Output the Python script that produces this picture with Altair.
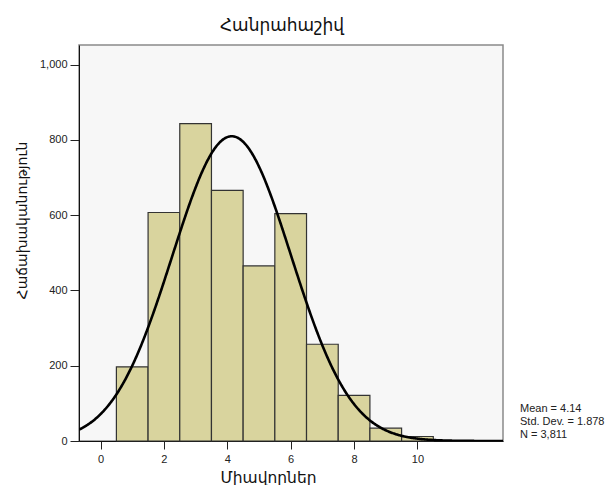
import altair as alt
import pandas as pd

# Histogram data
bin_centers = [1, 2, 3, 4, 5, 6, 7, 8, 9, 10]
counts = [197, 607, 843, 666, 465, 604, 257, 121, 34, 12]

# Summary statistics (used for the fitted normal curve)
mean_val = 4.14
sd_val = 1.878
n_val = 3811
stats_lines = ["Mean = 4.14", "Std. Dev. = 1.878", "N = 3,811"]

title_text = "Հանրահաշիվ"
x_title = "Միավորներ"
y_title = "Հաճախականություն"
x_ticks = [0, 2, 4, 6, 8, 10]
y_ticks = [0, 200, 400, 600, 800, 1000]
x_domain = [-0.68, 12.7]
y_domain = [0, 1052]

df = pd.DataFrame({
    "start": [c - 0.5 for c in bin_centers],
    "end": [c + 0.5 for c in bin_centers],
    "count": counts,
})

font = "Liberation Sans, Arial, DejaVu Sans"
arm_font = "DejaVu Sans"

xscale = alt.Scale(domain=x_domain, nice=False, zero=False)
yscale = alt.Scale(domain=y_domain, nice=False)

xaxis = alt.Axis(values=x_ticks, title=x_title, grid=False, tickSize=8,
                 tickColor="#222", domainColor="#111", labelFontSize=11,
                 labelColor="#222", labelFont=font, labelPadding=4,
                 titleFont=arm_font, titleFontSize=15.5, titleFontWeight="normal",
                 titleColor="#111", titleX=189, titleY=41,
                 titleBaseline="alphabetic", titleAlign="center")
yaxis = alt.Axis(values=y_ticks, format=",d", title=y_title, grid=False,
                 tickSize=9, tickColor="#222", domainColor="#111",
                 labelFontSize=11, labelColor="#222", labelFont=font,
                 labelPadding=3, titleFont=arm_font, titleFontSize=14,
                 titleFontWeight="normal", titleColor="#111",
                 titleX=-57, titleY=175, titleBaseline="middle",
                 titleAlign="center", titleAngle=-90)

bars = alt.Chart(df).mark_rect(color="#d9d49e", stroke="#333333",
                                strokeWidth=1.2).encode(
    x=alt.X("start:Q", scale=xscale, axis=xaxis),
    x2="end:Q",
    y=alt.Y("count:Q", scale=yscale, axis=yaxis),
    y2=alt.datum(0),
)

curve = alt.Chart(
    alt.sequence(start=x_domain[0], stop=x_domain[1] + 0.01, step=0.02, as_="xv")
).transform_calculate(
    yv=f"{n_val} * exp(-0.5 * pow((datum.xv - {mean_val}) / {sd_val}, 2)) / ({sd_val} * sqrt(2 * PI))"
).mark_line(color="#000000", strokeWidth=2.6, clip=True).encode(
    x=alt.X("xv:Q", scale=xscale),
    y=alt.Y("yv:Q", scale=yscale),
)

stats = alt.Chart(pd.DataFrame({"k": [0]})).mark_text(
    text=stats_lines, align="left", baseline="top", fontSize=11,
    font=font, color="#222", lineHeight=13
).encode(x=alt.value(441), y=alt.value(358))

chart = alt.layer(bars, curve, stats).properties(
    width=424, height=396,
    title=alt.TitleParams(title_text, font=arm_font, fontSize=17,
                          fontWeight="normal", color="#111", offset=10,
                          dx=-9),
    autosize=alt.AutoSizeParams(type="none"),
    padding={"left": 71, "top": 37, "right": 104, "bottom": 44},
    background="white",
).configure_view(fill="#f7f7f7", stroke="#8a8a8a", strokeWidth=1.5)

chart.save("out.html", embed_options={"renderer": "svg", "actions": False})
